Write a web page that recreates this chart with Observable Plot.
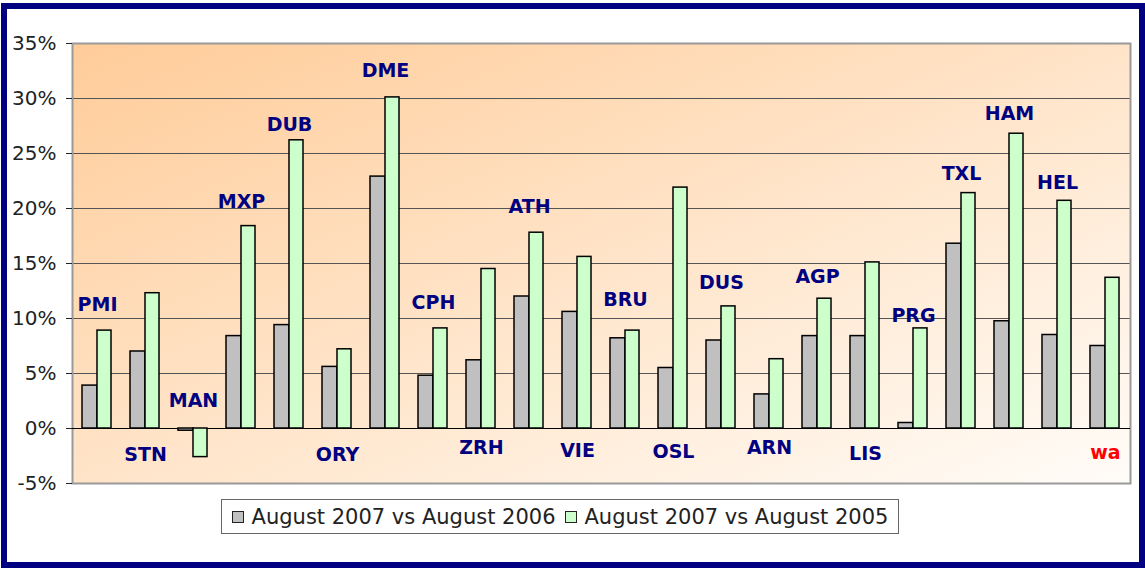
<!DOCTYPE html>
<html>
<head>
<meta charset="utf-8">
<script src="https://cdn.jsdelivr.net/npm/d3@7"></script>
<script src="https://cdn.jsdelivr.net/npm/@observablehq/plot@0.6"></script>
<style>
  html, body { margin: 0; padding: 0; background: #fff; }
  body { width: 1145px; height: 568px; position: relative; overflow: hidden; font-family: "DejaVu Sans", Verdana, sans-serif; }
  #chart { position: absolute; left: 0; top: 0; }
  #frame { position: absolute; left: 1px; top: 3px; width: 1144px; height: 565px; box-sizing: border-box; border: 6px solid #000080; pointer-events: none; }
  #legend { position: absolute; left: 221px; top: 499px; width: 678px; height: 35px; box-sizing: border-box; border: 1px solid #666; background: #fff;
            display: flex; align-items: center; justify-content: center; gap: 9px; font-size: 21px; color: #222; white-space: nowrap; }
  .item { display: flex; align-items: center; }
  .sw { width: 10px; height: 10px; border: 1.5px solid #222; margin-right: 8px; }
</style>
</head>
<body>
<div id="chart"></div>
<div id="legend"></div>
<div id="frame"></div>
<script>
const airports = ["PMI","STN","MAN","MXP","DUB","ORY","DME","CPH","ZRH","ATH","VIE","BRU","OSL","DUS","ARN","AGP","LIS","PRG","TXL","HAM","HEL","wa"];
const vs2006 = [3.9, 7.0, -0.2, 8.4, 9.4, 5.6, 22.9, 4.8, 6.2, 12.0, 10.6, 8.2, 5.5, 8.0, 3.1, 8.4, 8.4, 0.5, 16.8, 9.75, 8.5, 7.5];
const vs2005 = [8.9, 12.3, -2.6, 18.4, 26.2, 7.2, 30.1, 9.1, 14.5, 17.8, 15.6, 8.9, 21.9, 11.1, 6.3, 11.8, 15.1, 9.1, 21.4, 26.8, 20.7, 13.7];
const labelLevel = [11.2, -2.4, 2.5, 20.6, 27.6, -2.4, 32.5, 11.4, -1.8, 20.1, -2.0, 11.7, -2.15, 13.2, -1.8, 13.75, -2.3, 10.2, 23.1, 28.6, 22.3, -2.25];
const seriesNames = ["August 2007 vs August 2006", "August 2007 vs August 2005"];
const seriesColors = ["#C0C0C0", "#CCFFCC"];
const yTicks = [-5, 0, 5, 10, 15, 20, 25, 30, 35];

const rows = airports.map((a, i) => ({airport: a, v1: vs2006[i], v2: vs2005[i], ly: labelLevel[i]}));

const plot = Plot.plot({
  width: 1145,
  height: 500,
  marginLeft: 72,
  marginRight: 15,
  marginTop: 43,
  marginBottom: 17,
  style: {fontFamily: "DejaVu Sans, Verdana, sans-serif", fontSize: "20px", background: "transparent", color: "#222"},
  x: {domain: airports, padding: 0, axis: null},
  y: {domain: [-5, 35], ticks: yTicks, tickFormat: d => d + "%", tickSize: 6, tickPadding: 10, label: null, line: true},
  marks: [
    Plot.frame({fill: "url(#bgGrad)"}),
    Plot.ruleY(yTicks.filter(d => d > -5 && d < 35 && d !== 0), {stroke: "#555", strokeWidth: 1}),
    Plot.frame({stroke: "#999", strokeWidth: 2}),
    Plot.ruleY([0], {stroke: "#000", strokeWidth: 1}),
    Plot.barY(rows, {x: "airport", y1: 0, y2: "v1", fill: seriesColors[0], stroke: "#000", strokeWidth: 1.5, insetLeft: 9, insetRight: 24}),
    Plot.barY(rows, {x: "airport", y1: 0, y2: "v2", fill: seriesColors[1], stroke: "#000", strokeWidth: 1.5, insetLeft: 24, insetRight: 10}),
    Plot.text(rows, {x: "airport", y: "ly", text: "airport", fill: d => d.airport === "wa" ? "#FF0000" : "#000080",
      fontWeight: "bold", fontSize: 19, fontFamily: "DejaVu Sans, Verdana, sans-serif"}),
    Plot.axisY({ticks: yTicks, tickFormat: d => d + "%", tickSize: 6, tickPadding: 10, stroke: "#222", fill: "#222", fontSize: 20, label: null})
  ]
});

d3.select(plot).insert("defs", ":first-child").html(
  '<linearGradient id="bgGrad" x1="0" y1="0" x2="1" y2="1">' +
  '<stop offset="0" stop-color="#FFCC99"/><stop offset="1" stop-color="#FFFCF8"/></linearGradient>'
);
document.getElementById("chart").appendChild(plot);

const legend = d3.select("#legend");
seriesNames.forEach((name, i) => {
  const it = legend.append("div").attr("class", "item");
  it.append("div").attr("class", "sw").style("background", seriesColors[i]);
  it.append("span").text(name);
});
</script>
</body>
</html>
